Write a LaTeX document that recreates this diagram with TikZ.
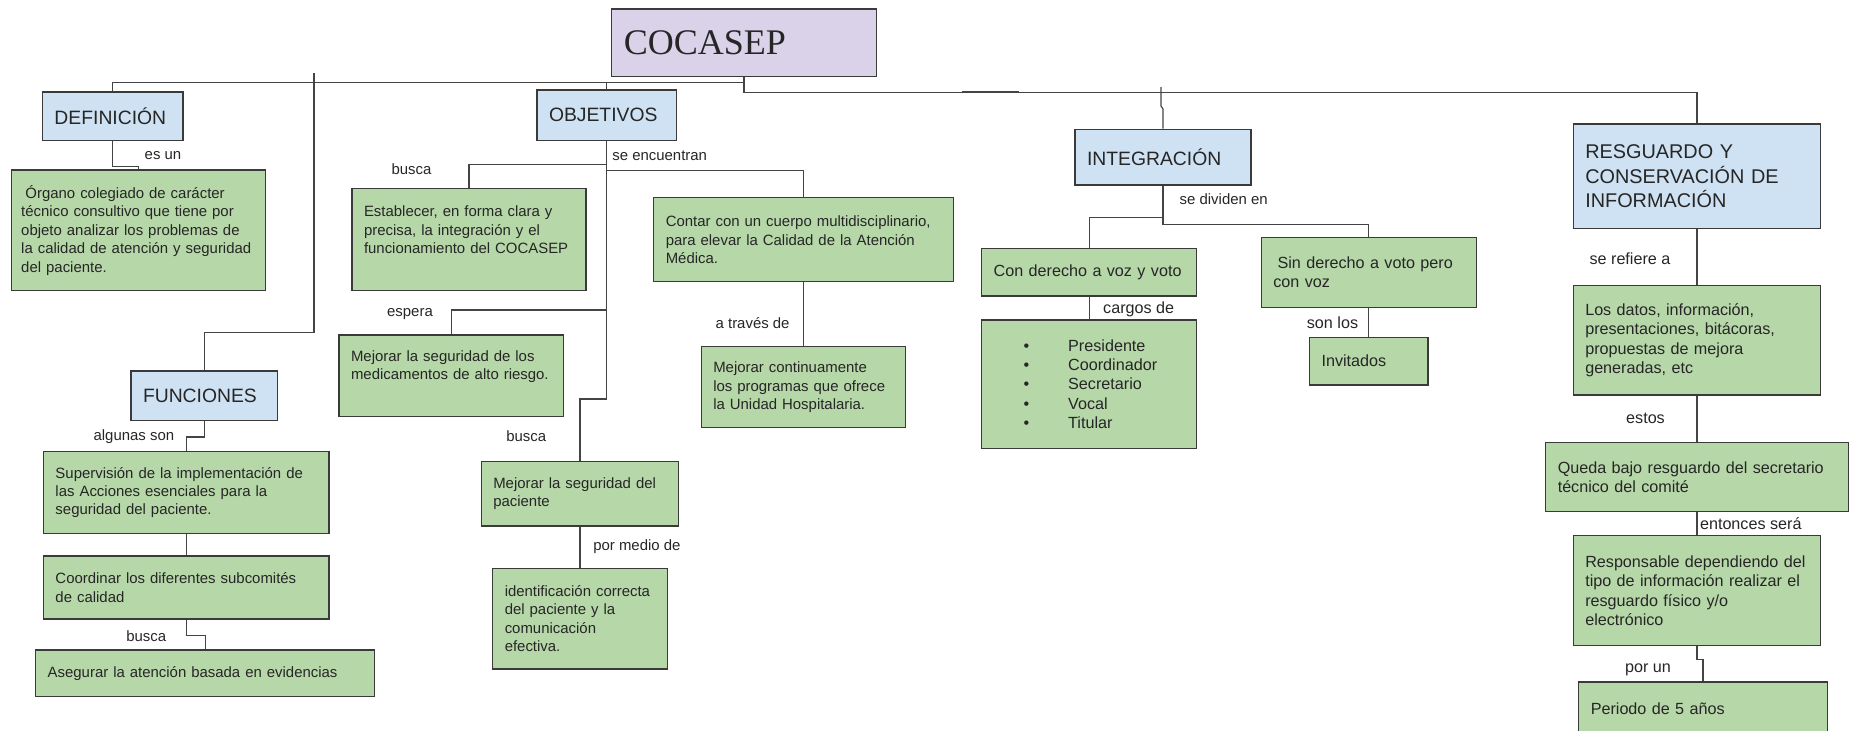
\documentclass[tikz,border=0pt]{standalone}
\usepackage{fontspec}
\setmainfont{Liberation Sans}
\newfontfamily\serifa{Liberation Serif}
\usepackage{xcolor}
\usepackage{tikz}
\definecolor{verde}{HTML}{B6D7A8}
\definecolor{azul}{HTML}{CFE2F3}
\definecolor{lila}{HTML}{D9D2E9}
\definecolor{borde}{HTML}{3A3A3A}
\definecolor{linea}{HTML}{444444}
\definecolor{tinta}{HTML}{262626}
\newcommand{\txtchico}{\fontsize{8.5}{10.5}\selectfont}
\newcommand{\txtmedio}{\fontsize{9.2}{11}\selectfont}
\newcommand{\txttema}{\fontsize{11}{13.6}\selectfont}
\newcommand{\vineta}[1]{\hspace*{6mm}\makebox[8.9mm][l]{\textbullet}#1}
\tikzstyle{conector} = [draw=linea, line width=0.7pt]
\tikzset{every node/.style={align=center}}

\begin{document}
\begin{tikzpicture}[x=0.2mm, y=-0.2mm,
    caja/.style={rectangle, draw=borde, line width=0.8pt, fill=verde, align=left,
                 inner xsep=2.4mm, inner ysep=0.8mm, text=tinta, font=\txtchico,
                 execute at begin node={\hyphenpenalty=10000\exhyphenpenalty=10000}},
    cajam/.style={caja, font=\txtmedio},
    tema/.style={caja, fill=azul, font=\txttema},
    etq/.style={inner sep=0pt, text=tinta, font=\txtchico},
    etqm/.style={etq, font=\txtmedio}
]
  \useasboundingbox (0,0) rectangle (1852,731);

  % --- Raiz ---
  \node[caja, fill=lila, font=\serifa\fontsize{20.5}{24}\selectfont,
        text width=48.1mm, minimum height=13.5mm] (cocasep) at (744,42.9) {COCASEP};

  % --- Definicion y funciones ---
  \node[tema, text width=23.3mm, minimum height=9.7mm] (definicion) at (112.75,116.25) {DEFINICIÓN};
  \node[caja, inner xsep=1.9mm, text width=47mm, minimum height=24.1mm] (organo) at (138.75,230.25)
       {\hspace*{2.4pt}Órgano colegiado de carácter\\técnico consultivo que tiene por\\objeto analizar los problemas de\\la calidad de atención y seguridad\\del paciente.};
  \node[tema, text width=24.5mm, minimum height=9.9mm] (funciones) at (204.25,395.6) {FUNCIONES};
  \node[caja, text width=52.3mm, minimum height=16.3mm] (supervision) at (186.25,492.5)
       {Supervisión de la implementación de\\las Acciones esenciales para la\\seguridad del paciente.};
  \node[caja, text width=52.3mm, minimum height=12.6mm] (coordinar) at (186.25,587.5)
       {Coordinar los diferentes subcomités\\de calidad};
  \node[caja, text width=63mm, minimum height=9.3mm] (asegurar) at (205.2,673.3)
       {Asegurar la atención basada en evidencias};

  % --- Objetivos ---
  \node[tema, text width=23.1mm, minimum height=10.1mm] (objetivos) at (606.75,115.25) {OBJETIVOS};
  \node[caja, text width=42mm, minimum height=20.5mm] (establecer) at (469,239.5)
       {Establecer, en forma clara y\\precisa, la integración y el\\funcionamiento del COCASEP\par\vspace{3.8mm}};
  \node[caja, text width=55.1mm, minimum height=16.8mm] (contar) at (803.5,239.7)
       {Contar con un cuerpo multidisciplinario,\\para elevar la Calidad de la Atención\\Médica.};
  \node[caja, text width=40.1mm, minimum height=16.3mm] (medicamentos) at (451.3,375.8)
       {Mejorar la seguridad de los\\medicamentos de alto riesgo.\par\vspace{3.6mm}};
  \node[caja, text width=36.1mm, minimum height=16.2mm] (continuamente) at (803.5,387.2)
       {Mejorar continuamente\\los programas que ofrece\\la Unidad Hospitalaria.};
  \node[caja, text width=34.7mm, minimum height=12.9mm] (segpaciente) at (580,493.8)
       {Mejorar la seguridad del\\paciente};
  \node[caja, text width=30.1mm, minimum height=20.1mm] (identificacion) at (580,618.7)
       {identificación correcta\\del paciente y la\\comunicación\\efectiva.};

  % --- Integracion ---
  \node[tema, text width=30.4mm, minimum height=11.1mm] (integracion) at (1163,157.2) {INTEGRACIÓN};
  \node[cajam, text width=38.2mm, minimum height=9.5mm] (conderecho) at (1089.2,272.2)
       {Con derecho a voz y voto};
  \node[cajam, text width=38.2mm, minimum height=25.7mm] (cargos) at (1089.2,384.2)
       {\vineta{Presidente}\\\vineta{Coordinador}\\\vineta{Secretario}\\\vineta{Vocal}\\\vineta{Titular}};
  \node[cajam, text width=38.2mm, minimum height=14mm] (sinderecho) at (1368.8,272.3)
       {\hspace*{2.4pt}Sin derecho a voto pero\\con voz};
  \node[cajam, text width=18.9mm, minimum height=9.5mm] (invitados) at (1368.8,361.2) {Invitados};

  % --- Resguardo ---
  \node[tema, font=\fontsize{11.3}{13.7}\selectfont, text width=44.7mm, minimum height=20.9mm]
       (resguardo) at (1697,176.2) {RESGUARDO Y\\CONSERVACIÓN DE\\INFORMACIÓN};
  \node[cajam, text width=44.7mm, minimum height=21.9mm] (datos) at (1697,340.3)
       {Los datos, información,\\presentaciones, bitácoras,\\propuestas de mejora\\generadas, etc};
  \node[cajam, text width=55.7mm, minimum height=13.8mm] (queda) at (1697,477.2)
       {Queda bajo resguardo del secretario\\técnico del comité};
  \node[cajam, text width=44.7mm, minimum height=22mm] (responsable) at (1697,590.7)
       {Responsable dependiendo del\\tipo de información realizar el\\resguardo físico y/o\\electrónico};
  \node[cajam, text width=44.9mm, minimum height=10.8mm] (periodo) at (1703,708.8)
       {Periodo de 5 años};

  % --- Lineas principales ---
  \coordinate (nudo) at (744,82.7);
  \coordinate (tope) at (314,73);
  \coordinate (tope2) at (1161,87);
  \draw[conector] (cocasep.south) -- ++(0,15) -| (resguardo.north);
  \draw[conector] (definicion.north) |- (nudo);
  \draw[conector] (objetivos.north) -- (objetivos.north |- nudo);
  \draw[conector] (tope) -- ++(0,259.3) -| (funciones.north);
  \draw[conector] (tope2) -- ++(0,19) -- ++(2,3) -- (integracion.north);
  \draw[draw=linea, line width=1.3pt] (962,91.7) -- (1019,91.7);

  % --- Conectores ---
  \draw[conector] (definicion.south) -- ++(0,25.5) -| (organo.north);
  \draw[conector] (funciones.south) -- ++(0,16) -| (supervision.north);
  \draw[conector] (supervision.south) -- (coordinar.north);
  \draw[conector] (coordinar.south) -- ++(0,16) -| (asegurar.north);

  \draw[conector] (objetivos.south) -- ++(0,23.5) -| (establecer.north);
  \draw[conector] (objetivos.south) -- ++(0,29.5) -| (contar.north);
  \draw[conector] (objetivos.south) -- ++(0,168.8) -| (medicamentos.north);
  \draw[conector] (objetivos.south) -- ++(0,257.8) -| (segpaciente.north);
  \draw[conector] (segpaciente.south) -- (identificacion.north);
  \draw[conector] (contar.south) -- (continuamente.north);

  \draw[conector] (integracion.south) -- ++(0,31.7) -| (conderecho.north);
  \draw[conector] (integracion.south) -- ++(0,39) -| (sinderecho.north);
  \draw[conector] (conderecho.south) -- (cargos.north);
  \draw[conector] (sinderecho.south) -- (invitados.north);

  \draw[conector] (resguardo.south) -- (datos.north);
  \draw[conector] (datos.south) -- (queda.north);
  \draw[conector] (queda.south) -- (responsable.north);
  \draw[conector] (responsable.south) -- ++(0,13.3) -| (periodo.north);

  % --- Etiquetas ---
  \node[etq] (esun)       at (163,156)    {es un};
  \node[etq] (algunas)    at (133.9,436.7) {algunas son};
  \node[etq] (busca1)     at (146.3,635.7) {busca};
  \node[etq] (busca2)     at (411.5,169.3) {busca};
  \node[etq] (encuentran) at (659.7,155.7) {se encuentran};
  \node[etq] (espera)     at (410,314)    {espera};
  \node[etq] (busca3)     at (526.2,436)  {busca};
  \node[etq] (traves)     at (752.6,323.3) {a través de};
  \node[etq] (medio)      at (636.9,546.7) {por medio de};
  \node[etq] (dividen)    at (1223.7,199) {se dividen en};
  \node[etqm] (cargosde)  at (1138.7,309.3) {cargos de};
  \node[etqm] (sonlos)    at (1332.5,322.7) {son los};
  \node[etqm] (refiere)   at (1630,258.3) {se refiere a};
  \node[etqm] (estos)     at (1645.5,418.3) {estos};
  \node[etqm] (entonces)  at (1750.8,524)  {entonces será};
  \node[etqm] (porun)     at (1648,670)    {por un};
\end{tikzpicture}
\end{document}
